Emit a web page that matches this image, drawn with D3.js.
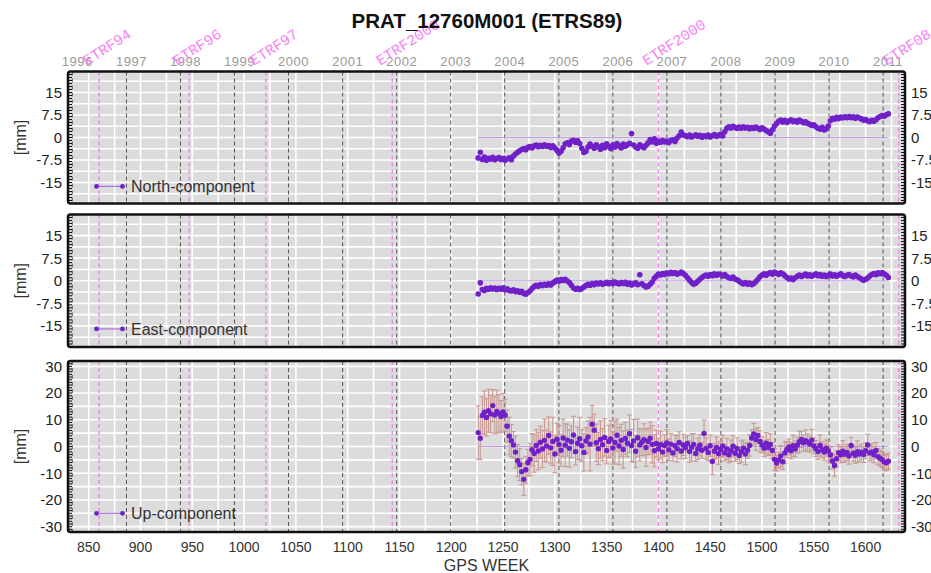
<!DOCTYPE html>
<html>
  <head>
    <title>PRAT_12760M001 (ETRS89)</title>
    <style>
      body { margin: 0; background: #fff; }
      svg { display: block; font-family: "Liberation Sans", Arial, Helvetica, sans-serif; }
    </style>
  </head>
  <body>
    <svg class='graph'></svg>
    <script type="text/javascript" src="https://d3js.org/d3.v7.min.js"></script>
    <script type="text/javascript">

// weekly solutions, one value every second GPS week
var firstWeek = 1226
var weekStep = 2

var north = [
  -6.8,-4.9,-7.3,-6.5,-7.6,-6.9,-7.2,-6.6,-7.4,-7.0,
  -6.7,-7.3,-6.9,-7.6,-7.1,-6.8,-7.4,-6.2,-5.5,-4.9,
  -4.4,-4.0,-3.7,-4.1,-3.3,-3.0,-3.5,-2.8,-2.5,-3.1,
  -2.6,-3.0,-2.4,-2.9,-2.7,-3.3,-2.8,-3.5,-4.3,-5.2,
  -4.6,-3.4,-2.1,-1.8,-2.3,-1.2,-0.9,-1.6,-1.1,-2.0,
  -3.6,-5.0,-4.6,-3.2,-2.2,-2.9,-3.6,-2.4,-3.1,-3.9,
  -2.6,-3.4,-2.1,-3.0,-3.7,-2.5,-3.2,-2.0,-2.8,-3.5,
  -2.2,-2.9,-2.4,-1.9,1.3,-2.5,-3.2,-3.6,-2.4,-2.9,
  -3.4,-2.6,-1.8,-0.7,-1.5,-0.4,-1.9,-1.2,-1.6,-1.0,
  -1.5,-1.2,-1.7,-1.0,-0.8,-1.3,-0.2,0.6,1.8,0.9,
  0.6,0.3,0.8,0.2,0.5,0.9,0.4,0.7,0.1,0.6,
  0.3,0.8,0.2,0.6,1.0,0.4,0.7,1.1,0.5,1.9,
  3.1,3.6,3.2,3.7,3.3,3.0,3.5,3.1,3.6,3.2,
  3.4,2.9,3.3,3.0,3.5,3.1,2.7,3.2,2.8,2.3,
  1.9,1.4,2.6,3.8,4.6,5.4,5.8,5.2,5.7,5.0,
  5.5,5.9,5.3,5.6,5.1,5.8,5.4,4.9,5.2,4.7,
  4.4,4.0,4.2,3.6,3.1,2.8,3.4,2.5,2.9,3.8,
  5.6,6.4,6.1,6.7,6.3,6.8,6.5,6.9,6.6,7.0,
  6.6,6.9,6.4,6.8,6.5,6.2,5.8,6.0,5.5,5.3,
  5.7,5.4,5.9,6.6,7.0,7.3,7.1,7.6,7.9
]

var east = [
  -4.4,-0.7,-2.9,-3.2,-2.5,-2.8,-2.3,-2.7,-2.4,-2.9,
  -2.5,-2.8,-2.3,-3.0,-2.7,-3.2,-3.4,-3.0,-3.6,-3.3,
  -3.8,-3.5,-4.2,-4.5,-3.9,-3.4,-2.6,-1.9,-1.5,-1.8,
  -1.3,-1.6,-1.2,-1.5,-1.0,-1.4,-0.8,-0.3,0.2,-0.2,
  0.4,0.1,0.5,-0.1,-0.6,-1.5,-2.4,-2.8,-2.5,-2.9,
  -2.6,-2.1,-1.6,-1.2,-1.5,-0.9,-1.3,-0.8,-1.1,-0.7,
  -1.2,-0.9,-0.5,-1.0,-0.6,-0.9,-0.4,-0.8,-1.1,-0.6,
  -0.9,-0.5,-1.2,-0.8,-1.4,-1.0,-0.7,-1.3,2.0,-1.0,
  -1.6,-2.1,-1.8,-1.2,-0.4,0.8,1.6,2.2,1.9,2.4,
  2.1,2.6,2.3,2.8,2.4,2.7,2.2,2.5,2.9,2.4,
  1.8,1.0,0.2,-0.6,-1.2,-0.8,-0.2,0.5,1.1,1.6,
  1.9,1.5,2.1,1.7,2.3,1.8,2.2,2.0,1.6,2.1,
  1.4,1.0,0.8,1.2,0.6,0.3,-0.2,-0.7,-1.1,-0.6,
  -1.2,-0.8,-1.3,-0.9,-0.3,0.5,1.3,1.9,2.3,1.8,
  2.4,2.7,2.2,2.9,2.5,2.1,2.6,2.3,1.7,1.1,
  0.6,0.9,0.4,1.0,1.5,1.9,1.4,1.8,2.2,1.6,
  2.0,1.5,1.9,2.3,1.7,2.1,1.5,1.9,1.4,1.8,
  2.2,1.6,2.0,1.5,1.9,2.3,1.7,1.4,1.8,2.1,
  1.6,1.3,1.9,1.4,1.0,0.6,0.2,0.5,0.9,1.6,
  2.1,2.4,2.0,2.6,2.3,2.7,2.2,1.8,1.1
]

var up = [
  5.2,3.1,11.6,12.8,10.9,13.4,12.2,15.3,11.8,13.1,
  12.4,11.2,12.9,11.7,7.6,3.9,2.2,0.6,-2.1,-5.3,
  -6.8,-9.4,-12.3,-8.7,-6.1,-4.8,-1.2,-2.6,0.4,-1.7,
  1.6,-0.9,2.3,0.2,4.1,-0.5,1.9,-2.8,2.7,0.8,
  -1.4,3.2,0.5,2.4,-0.7,1.8,4.3,-1.9,1.2,2.9,
  0.3,-2.2,2.1,3.6,0.9,8.3,6.1,1.4,-0.8,2.6,
  0.7,3.4,-1.5,1.9,2.8,-0.6,1.5,4.2,0.2,2.3,
  -1.1,3.0,1.2,4.8,0.4,2.1,-1.8,3.3,0.6,1.7,
  2.5,-0.4,1.9,3.1,0.8,-1.6,1.1,-0.9,0.7,-2.1,
  0.4,1.3,-1.2,0.9,-2.4,0.3,-0.8,1.5,-1.7,0.6,
  -0.5,1.1,-1.9,-0.3,0.8,-2.6,-0.9,0.5,-1.4,4.9,
  -0.7,-2.2,0.3,-5.6,-1.8,-0.4,-2.7,-1.1,0.2,-2.4,
  -0.9,-3.1,-1.6,0.1,-2.5,-0.8,-3.4,-1.9,-0.6,-2.8,
  -1.4,0.4,3.2,4.7,2.6,4.1,1.9,0.6,-0.7,1.2,
  -0.4,0.8,-1.5,-4.8,-6.2,-5.1,-3.6,-5.7,-2.4,-1.1,
  -0.2,-1.6,0.3,-0.9,0.5,1.8,2.6,1.4,2.2,1.7,
  0.9,2.4,0.2,-0.8,-1.9,0.4,-1.2,-2.1,-0.6,-1.7,
  -3.2,-5.4,-7.1,-4.6,-2.3,-3.1,-1.8,-2.9,-2.2,-3.6,
  0.4,-2.5,-3.3,-1.9,-2.8,-2.1,-3.0,-1.6,0.6,-2.4,
  -2.0,-3.1,-1.5,-3.8,-4.4,-4.9,-5.8,-6.1,-5.5
]

var upError = [
  10,8,7,8,7,8,7,6,7,8,
  7,6,7,6,6,7,6,5,6,6,
  6,5,6,5,5,6,6,7,6,7,
  6,7,8,6,7,6,9,7,6,7,
  6,7,8,6,7,6,7,5,6,8,
  6,7,5,6,10,7,6,7,6,7,
  6,7,5,6,7,6,8,6,7,6,
  7,6,5,7,6,8,6,7,6,5,
  6,7,5,6,7,6,5,4,5,4,
  4,5,4,4,3,4,5,4,3,4,
  4,3,4,5,4,3,4,4,3,5,
  4,3,4,5,3,4,4,3,4,3,
  4,3,4,4,3,4,3,4,3,4,
  3,4,3,4,4,3,4,3,3,4,
  3,4,3,4,3,3,4,3,4,3,
  3,3,4,3,3,4,3,3,4,3,
  3,4,3,3,3,4,3,3,3,4,
  3,3,4,3,3,3,4,3,3,3,
  3,3,3,4,3,3,3,3,4,3,
  3,3,3,3,3,3,3,3,3
]

var weekTicks = [850, 900, 950, 1000, 1050, 1100, 1150, 1200, 1250, 1300, 1350, 1400, 1450, 1500, 1550, 1600]
var years = [1996, 1997, 1998, 1999, 2000, 2001, 2002, 2003, 2004, 2005, 2006, 2007, 2008, 2009, 2010, 2011]
var frameNames = ["ETRF94", "ETRF96", "ETRF97", "ETRF2000", "ETRF2000", "ETRF08"]
var frameWeeks = [860, 947, 1021, 1143, 1400, 1632]
var componentNames = ["North-component", "East-component", "Up-component"]
var horizTicks = [-15, -7.5, 0, 7.5, 15]
var upTicks = [-30, -20, -10, 0, 10, 20, 30]

var width = 931
var height = 573
var left = 68
var right = 905

var svg = d3.select(".graph")
    .attr("width", width)
    .attr("height", height)

var x = d3.scaleLinear().domain([830, 1638]).range([left, right])

function gpsWeek(year) {
    return (Date.UTC(year, 0, 1) - Date.UTC(1980, 0, 6)) / (7 * 86400000)
}

function rows(values, errors) {
    return values.map(function(v, i) {
        return {week: firstWeek + i * weekStep, value: v, err: errors ? errors[i] : 0}
    })
}

var panels = [
    {name: componentNames[0], data: rows(north), top: 71.5, bottom: 203.5, max: 22, ticks: horizTicks, grid: 3.75, legend: -16.3, bars: false},
    {name: componentNames[1], data: rows(east), top: 214.5, bottom: 347, max: 22, ticks: horizTicks, grid: 3.75, legend: -16, bars: false},
    {name: componentNames[2], data: rows(up, upError), top: 361, bottom: 532, max: 32, ticks: upTicks, grid: 5, legend: -25, bars: true}
]

var weekGrid = d3.range(850, 1638, 25)

panels.forEach(function(p) {
    var y = d3.scaleLinear().domain([-p.max, p.max]).range([p.bottom, p.top])
    var g = svg.append("g")

    g.append("rect")
        .attr("x", left).attr("y", p.top)
        .attr("width", right - left).attr("height", p.bottom - p.top)
        .attr("fill", "#dcdcdc")

    // white grid
    g.selectAll(".vgrid").data(weekGrid).enter().append("line")
        .attr("x1", function(d) { return x(d) }).attr("x2", function(d) { return x(d) })
        .attr("y1", p.top).attr("y2", p.bottom)
        .attr("stroke", "#fff").attr("stroke-width", 1.6)
    var hg = d3.range(-Math.floor(p.max / p.grid) * p.grid, p.max, p.grid)
    g.selectAll(".hgrid").data(hg).enter().append("line")
        .attr("x1", left).attr("x2", right)
        .attr("y1", function(d) { return y(d) }).attr("y2", function(d) { return y(d) })
        .attr("stroke", "#fff").attr("stroke-width", 1.6)

    // year boundaries
    g.selectAll(".year").data(years).enter().append("line")
        .attr("x1", function(d) { return x(gpsWeek(d)) }).attr("x2", function(d) { return x(gpsWeek(d)) })
        .attr("y1", p.top).attr("y2", p.bottom)
        .attr("stroke", "#555").attr("stroke-width", 1)
        .attr("stroke-dasharray", "4,3")

    // reference frame changes
    g.selectAll(".frame").data(frameWeeks).enter().append("line")
        .attr("x1", function(d) { return x(d) }).attr("x2", function(d) { return x(d) })
        .attr("y1", p.top).attr("y2", p.bottom)
        .attr("stroke", "#f07cf0").attr("stroke-width", 1.3)
        .attr("stroke-dasharray", "4,3")

    var first = p.data[0].week, last = p.data[p.data.length - 1].week
    g.append("line")
        .attr("x1", x(first)).attr("x2", x(last))
        .attr("y1", y(0)).attr("y2", y(0))
        .attr("stroke", "#c09be8").attr("stroke-width", 1)

    if (p.bars) {
        var bars = g.selectAll(".bar").data(p.data).enter().append("g")
            .attr("stroke", "#c99a93").attr("stroke-width", 1.1)
        bars.append("line")
            .attr("x1", function(d) { return x(d.week) }).attr("x2", function(d) { return x(d.week) })
            .attr("y1", function(d) { return y(d.value - d.err) }).attr("y2", function(d) { return y(d.value + d.err) })
        bars.append("line")
            .attr("x1", function(d) { return x(d.week) - 2.5 }).attr("x2", function(d) { return x(d.week) + 2.5 })
            .attr("y1", function(d) { return y(d.value + d.err) }).attr("y2", function(d) { return y(d.value + d.err) })
        bars.append("line")
            .attr("x1", function(d) { return x(d.week) - 2.5 }).attr("x2", function(d) { return x(d.week) + 2.5 })
            .attr("y1", function(d) { return y(d.value - d.err) }).attr("y2", function(d) { return y(d.value - d.err) })
    }

    g.selectAll(".pt").data(p.data).enter().append("circle")
        .attr("cx", function(d) { return x(d.week) })
        .attr("cy", function(d) { return y(d.value) })
        .attr("r", p.bars ? 2.7 : 2.8)
        .attr("fill", "#7020c8")

    // legend
    var ly = y(p.legend)
    g.append("line")
        .attr("x1", 96.5).attr("x2", 122.5).attr("y1", ly).attr("y2", ly)
        .attr("stroke", "#a774e0").attr("stroke-width", 1.2)
    g.selectAll(".lpt").data([96.5, 122.5]).enter().append("circle")
        .attr("cx", function(d) { return d }).attr("cy", ly).attr("r", 2.4)
        .attr("fill", "#7020c8")
    g.append("text")
        .attr("x", 131).attr("y", ly).attr("dy", "0.36em")
        .attr("font-size", 16).attr("fill", "#333")
        .text(p.name)

    // frame and minor ticks
    g.append("rect")
        .attr("x", left).attr("y", p.top)
        .attr("width", right - left).attr("height", p.bottom - p.top)
        .attr("rx", 2.5)
        .attr("fill", "none").attr("stroke", "#111").attr("stroke-width", 2.5)
    var minor = d3.range(-p.max + 1, p.max, 1)
    g.selectAll(".mtl").data(minor).enter().append("line")
        .attr("x1", left).attr("x2", left + 4)
        .attr("y1", function(d) { return y(d) }).attr("y2", function(d) { return y(d) })
        .attr("stroke", "#111").attr("stroke-width", 1)
    g.selectAll(".mtr").data(minor).enter().append("line")
        .attr("x1", right - 4).attr("x2", right)
        .attr("y1", function(d) { return y(d) }).attr("y2", function(d) { return y(d) })
        .attr("stroke", "#111").attr("stroke-width", 1)

    // tick labels, both sides (the right ones run off the page as in the original)
    g.selectAll(".tl").data(p.ticks).enter().append("text")
        .attr("x", 62).attr("y", function(d) { return y(d) }).attr("dy", "0.36em")
        .attr("text-anchor", "end").attr("font-size", 15).attr("fill", "#222")
        .text(function(d) { return d })
    g.selectAll(".tr").data(p.ticks).enter().append("text")
        .attr("x", 911).attr("y", function(d) { return y(d) }).attr("dy", "0.36em")
        .attr("text-anchor", "start").attr("font-size", 15).attr("fill", "#222")
        .text(function(d) { return d })

    g.append("text")
        .attr("transform", "translate(26," + ((p.top + p.bottom) / 2) + ")rotate(-90)")
        .attr("text-anchor", "middle")
        .attr("font-size", 16).attr("fill", "#333")
        .text("[mm]")
})

// bottom axis
svg.selectAll(".xt").data(weekTicks).enter().append("text")
    .attr("x", function(d) { return x(d) }).attr("y", 552)
    .attr("text-anchor", "middle").attr("font-size", 14).attr("fill", "#333")
    .text(function(d) { return d })

svg.append("text")
    .attr("x", (left + right) / 2).attr("y", 571)
    .attr("text-anchor", "middle").attr("font-size", 16).attr("fill", "#333")
    .text("GPS WEEK")

// top axis: years and frame names
svg.selectAll(".yr").data(years).enter().append("text")
    .attr("x", function(d) { return x(gpsWeek(d)) + 5 }).attr("y", 66)
    .attr("text-anchor", "middle").attr("font-size", 13).attr("fill", "#999")
    .attr("letter-spacing", 0.5)
    .text(function(d) { return d })

svg.selectAll(".fr").data(frameWeeks).enter().append("text")
    .attr("transform", function(d) { return "translate(" + (x(d) - 12) + ",66)rotate(-33)" })
    .attr("font-family", "'Liberation Mono', 'DejaVu Sans Mono', monospace")
    .attr("font-size", 15).attr("fill", "#f77ff7")
    .text(function(d, i) { return frameNames[i] })

svg.append("text")
    .attr("x", 487).attr("y", 28)
    .attr("text-anchor", "middle")
    .attr("font-size", 20.5).attr("font-weight", "bold").attr("fill", "#111")
    .text("PRAT_12760M001 (ETRS89)")

    </script>
  </body>
</html>
